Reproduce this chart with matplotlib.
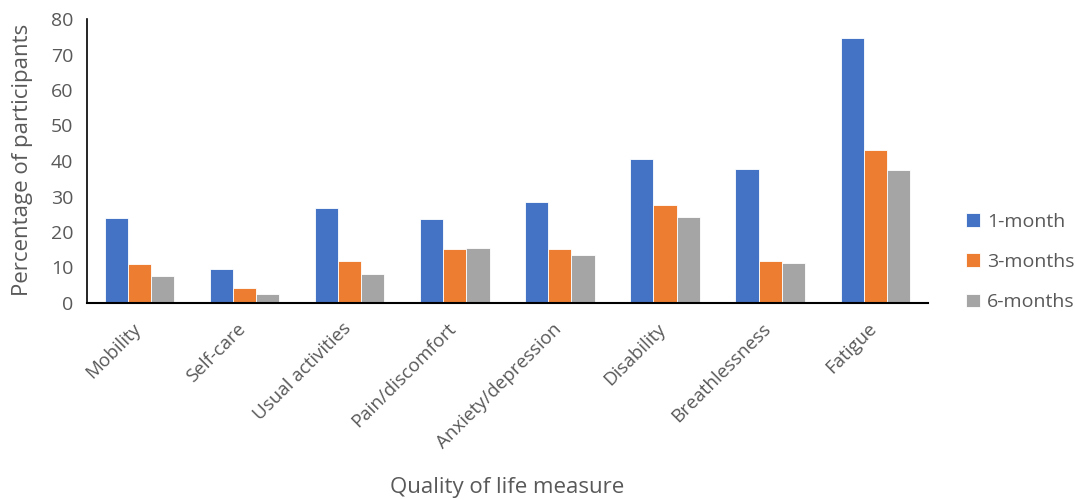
import numpy as np
import matplotlib.pyplot as plt
import matplotlib.transforms as mtransforms

categories = ['Mobility', 'Self-care', 'Usual activities', 'Pain/discomfort',
              'Anxiety/depression', 'Disability', 'Breathlessness', 'Fatigue']
one_month = [23.9, 9.7, 26.8, 23.8, 28.4, 40.7, 37.7, 74.7]
three_months = [11.1, 4.1, 11.7, 15.1, 15.1, 27.5, 11.7, 43.2]
six_months = [7.6, 2.5, 8.3, 15.6, 13.4, 24.1, 11.4, 37.6]
series_names = ['1-month', '3-months', '6-months']
colors = ['#4472C4', '#ED7D31', '#A5A5A5']
text_color = '#595959'

plt.rcParams['font.family'] = ['Open Sans', 'DejaVu Sans']

fig = plt.figure(figsize=(10.75, 5.0), dpi=100)
ax = fig.add_axes([0.081, 0.394, 0.782, 0.568])

x = np.arange(len(categories))
width = 0.22
for i, (vals, name, c) in enumerate(zip([one_month, three_months, six_months], series_names, colors)):
    ax.bar(x + (i - 1) * width, vals, width, color=c, label=name,
           edgecolor='white', linewidth=0.6)

ax.set_xlim(-0.5, len(categories) - 0.5)
ax.set_ylim(0, 80)
ax.set_yticks(range(0, 81, 10))
ax.set_xticks(x)
ax.set_xticklabels(categories, rotation=45, ha='right', rotation_mode='anchor')
ax.tick_params(axis='y', length=0, labelsize=14, colors=text_color, pad=10)
ax.tick_params(axis='x', length=0, labelsize=13.5, colors=text_color, pad=12)

# nudge rotated category labels left so their ends sit under the group centre
shift = mtransforms.ScaledTranslation(-0.08, 0, fig.dpi_scale_trans)
for lbl in ax.get_xticklabels():
    lbl.set_transform(lbl.get_transform() + shift)

for s in ['top', 'right']:
    ax.spines[s].set_visible(False)
ax.spines['left'].set_color('black')
ax.spines['bottom'].set_color('black')
ax.spines['left'].set_linewidth(1.2)
ax.spines['bottom'].set_linewidth(1.5)

fig.text(0.021, 0.68, 'Percentage of participants', fontsize=16, color=text_color,
         rotation=90, ha='center', va='center')
fig.text(0.472, 0.024, 'Quality of life measure', fontsize=16, color=text_color,
         ha='center', va='center')

leg = ax.legend(loc='center left', bbox_to_anchor=(1.046, 0.144), frameon=False,
                fontsize=14, handlelength=0.7, handleheight=0.7,
                handletextpad=0.35, labelspacing=1.15, borderpad=0, borderaxespad=0)
for t in leg.get_texts():
    t.set_color(text_color)

fig.savefig('out.png', dpi=100)
